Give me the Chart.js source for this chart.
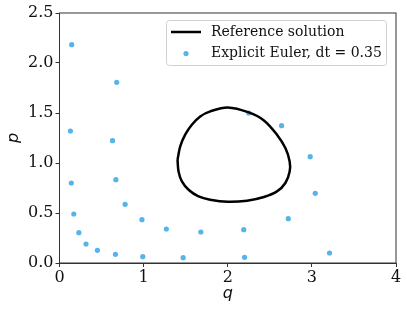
<!DOCTYPE html>
<html>
<head>
<meta charset="utf-8">
<script src="https://cdn.jsdelivr.net/npm/chart.js@4"></script>
<style>
  html, body { margin:0; padding:0; background:#fff; }
  #wrap { width:407px; height:313px; }
</style>
</head>
<body>
<div id="wrap"><canvas id="chart" width="407" height="313"></canvas></div>
<script>
// reference solution (clockwise, starting on the flat left side)
const refQ = [1.403, 1.435, 1.494, 1.573, 1.673, 1.792, 2.00, 2.25, 2.43, 2.585, 2.685, 2.736, 2.736, 2.685, 2.585, 2.43, 2.23, 2.00, 1.79, 1.653, 1.534, 1.455, 1.415, 1.403];
const refP = [1.033, 1.166, 1.283, 1.383, 1.466, 1.516, 1.556, 1.506, 1.426, 1.283, 1.15, 1.016, 0.916, 0.80, 0.716, 0.66, 0.623, 0.612, 0.633, 0.666, 0.733, 0.816, 0.916, 1.033];

// explicit Euler steps
const eulerQ = [2.25, 2.64, 2.98, 3.04, 2.72, 2.19, 1.68, 1.27, 0.98, 0.78, 0.67, 0.63, 0.68,
                0.145, 0.13, 0.14, 0.17, 0.23, 0.315, 0.45, 0.665, 0.99, 1.47, 2.20, 3.21];
const eulerP = [1.50, 1.373, 1.063, 0.697, 0.443, 0.333, 0.31, 0.34, 0.433, 0.587, 0.833, 1.223, 1.807,
                2.183, 1.32, 0.80, 0.49, 0.303, 0.19, 0.127, 0.087, 0.063, 0.053, 0.057, 0.10];

const xTicks = [0, 1, 2, 3, 4];
const yTicks = [0, 0.5, 1.0, 1.5, 2.0, 2.5];

const serif = "'DejaVu Serif', serif";
const blue = 'rgb(86,180,233)';

const toPts = (xs, ys) => xs.map((x, i) => ({ x, y: ys[i] }));

// box around the plot + legend inside the axes, matplotlib style
const frame = {
  id: 'frame',
  afterDraw(chart) {
    const { ctx, chartArea: a } = chart;
    ctx.save();
    ctx.strokeStyle = '#333';
    ctx.lineWidth = 1;
    ctx.strokeRect(a.left, a.top, a.right - a.left, a.bottom - a.top);

    const lx = 166.5, ly = 20.5, lw = 220, lh = 45;
    ctx.fillStyle = 'rgba(255,255,255,0.85)';
    ctx.strokeStyle = '#d0d0d0';
    ctx.beginPath();
    ctx.roundRect(lx, ly, lw, lh, 3);
    ctx.fill();
    ctx.stroke();

    const ds = chart.data.datasets;
    ctx.strokeStyle = '#000';
    ctx.lineWidth = 2.5;
    ctx.beginPath();
    ctx.moveTo(171, 32);
    ctx.lineTo(201, 32);
    ctx.stroke();
    ctx.fillStyle = blue;
    ctx.beginPath();
    ctx.arc(186, 53.5, 2.6, 0, Math.PI * 2);
    ctx.fill();

    ctx.fillStyle = '#111';
    ctx.font = '14px ' + serif;
    ctx.textBaseline = 'middle';
    ctx.fillText(ds[0].label, 211, 32);
    ctx.fillText(ds[1].label, 211, 53.5);
    ctx.restore();
  }
};

new Chart(document.getElementById('chart'), {
  type: 'scatter',
  data: {
    datasets: [
      { label: 'Reference solution', data: toPts(refQ, refP), showLine: true,
        borderColor: '#000', borderWidth: 2.5, pointRadius: 0, tension: 0.35, fill: false },
      { label: 'Explicit Euler, dt = 0.35', data: toPts(eulerQ, eulerP),
        backgroundColor: blue, borderWidth: 0, pointRadius: 2.6 }
    ]
  },
  options: {
    responsive: false,
    animation: false,
    layout: { padding: { top: 13, right: 11, left: 0, bottom: 0 } },
    plugins: { legend: { display: false }, tooltip: { enabled: false } },
    scales: {
      x: {
        type: 'linear', min: 0, max: 4,
        afterFit: s => { s.height = 50; },
        afterBuildTicks: s => { s.ticks = xTicks.map(v => ({ value: v })); },
        grid: { drawOnChartArea: false, drawTicks: true, tickLength: 4, color: '#333' },
        border: { display: true, color: '#333' },
        ticks: { color: '#111', font: { family: serif, size: 16 }, padding: 1, callback: v => String(v) },
        title: { display: true, text: 'q', color: '#111', padding: { top: 0, bottom: 10 },
                 font: { family: "'DejaVu Sans', sans-serif", size: 16, style: 'italic' } }
      },
      y: {
        type: 'linear', min: 0, max: 2.5,
        afterFit: s => { s.width = 59.5; },
        afterBuildTicks: s => { s.ticks = yTicks.map(v => ({ value: v })); },
        grid: { drawOnChartArea: false, drawTicks: true, tickLength: 4, color: '#333' },
        border: { display: true, color: '#333' },
        ticks: { color: '#111', font: { family: serif, size: 16 }, padding: 2, callback: v => v.toFixed(1) },
        title: { display: true, text: 'p', color: '#111', padding: { top: 4, bottom: 0 },
                 font: { family: "'DejaVu Sans', sans-serif", size: 16, style: 'italic' } }
      }
    }
  },
  plugins: [frame]
});
</script>
</body>
</html>
